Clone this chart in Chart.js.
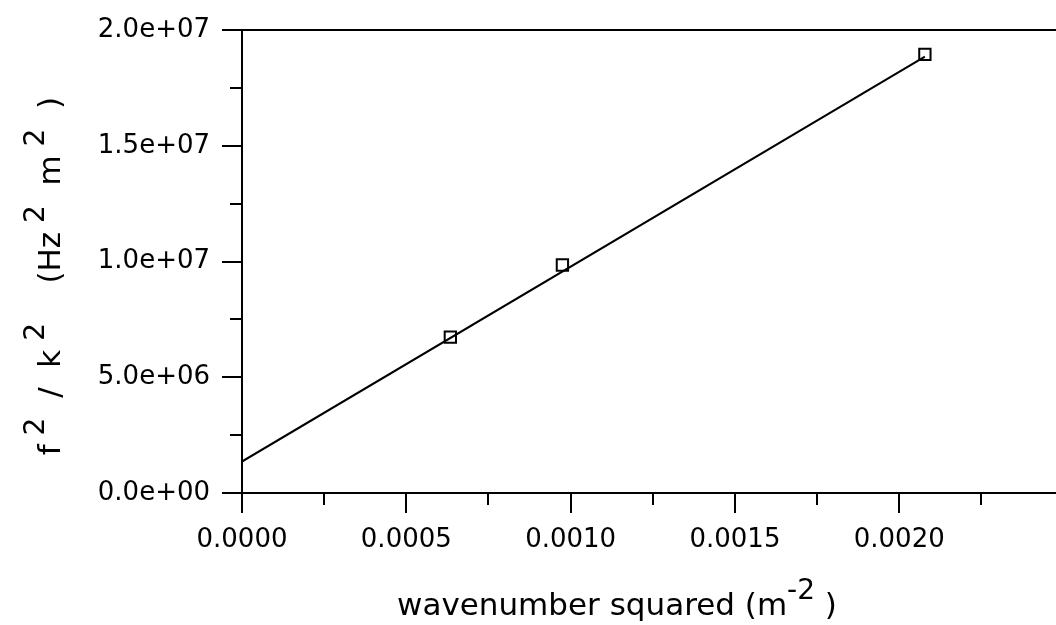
<!DOCTYPE html>
<html>
<head>
<meta charset="utf-8">
<script src="https://cdn.jsdelivr.net/npm/chart.js@4"></script>
<style>
html,body{margin:0;padding:0;background:#fff}
#wrap{width:1056px;height:625px}
</style>
</head>
<body>
<div id="wrap"><canvas id="dispChart"></canvas></div>
<script>
// measured points and the straight-line fit through them
const kSquared = [0.000634, 0.000975, 0.002078]
const fOverK = [6.73e6, 9.85e6, 1.895e7]
const fitK = [0, 0.002078]
const fitF = [1.36e6, 1.885e7]

const xLabels = ['0.0000', '0.0005', '0.0010', '0.0015', '0.0020']
const yLabels = ['0.0e+00', '5.0e+06', '1.0e+07', '1.5e+07', '2.0e+07']

// title pieces: [text, superscript?]
const xTitle = [['wavenumber squared (m', false], ['-2', true], [' )', false]]
const yTitle = [['f', false], [' 2', true], ['  /  k', false], [' 2', true], ['    (Hz', false], [' 2', true], ['  m', false], [' 2', true], ['  )', false]]

Chart.defaults.font.family = 'DejaVu Sans'
Chart.defaults.color = '#000'

const FONT = 'DejaVu Sans'

const majorLabel = (labels) => (value, index) => index % 2 === 0 ? (labels[index / 2] || '') : ''

const drawRuns = (ctx, runs, size, supSize, lift) => {
    let x = 0
    runs.forEach(([t, sup]) => {
        ctx.font = (sup ? supSize : size) + 'px "' + FONT + '"'
        ctx.fillText(t, x, sup ? -lift : 0)
        x += ctx.measureText(t).width
    })
    return x
}

const runsWidth = (ctx, runs, size, supSize) => {
    let w = 0
    runs.forEach(([t, sup]) => {
        ctx.font = (sup ? supSize : size) + 'px "' + FONT + '"'
        w += ctx.measureText(t).width
    })
    return w
}

// no extra room for edge labels, the frame is placed by layout padding
const noEdgePad = (s) => {
    s.paddingTop = 0
    s.paddingBottom = 0
    s.paddingLeft = 0
    s.paddingRight = 0
}

const axisDecor = {
    id: 'axisDecor',
    afterDraw(chart) {
        const ctx = chart.ctx
        const xs = chart.scales.x
        const ys = chart.scales.y
        const area = chart.chartArea
        ctx.save()
        ctx.strokeStyle = '#000'
        ctx.lineWidth = 2
        ctx.beginPath()
        // top frame line
        ctx.moveTo(area.left, area.top)
        ctx.lineTo(area.right, area.top)
        // axis lines
        ctx.moveTo(area.left, area.top)
        ctx.lineTo(area.left, area.bottom)
        ctx.lineTo(area.right, area.bottom)
        // ticks, long on labelled ones
        xs.ticks.forEach((t, i) => {
            const px = Math.round(xs.getPixelForValue(t.value))
            ctx.moveTo(px, area.bottom)
            ctx.lineTo(px, area.bottom + (i % 2 === 0 ? 20 : 12))
        })
        ys.ticks.forEach((t, i) => {
            const py = Math.round(ys.getPixelForValue(t.value))
            ctx.moveTo(area.left, py)
            ctx.lineTo(area.left - (i % 2 === 0 ? 20 : 12), py)
        })
        ctx.stroke()

        // axis titles with raised exponents
        ctx.fillStyle = '#000'
        ctx.textBaseline = 'alphabetic'
        ctx.textAlign = 'left'
        const size = 31, supSize = 28, lift = 16
        const wx = runsWidth(ctx, xTitle, size, supSize)
        ctx.save()
        ctx.translate(617 - wx / 2, 615)
        drawRuns(ctx, xTitle, size, supSize, lift)
        ctx.restore()

        const wy = runsWidth(ctx, yTitle, size, supSize)
        ctx.save()
        ctx.translate(60, 276 + wy / 2)
        ctx.rotate(-Math.PI / 2)
        drawRuns(ctx, yTitle, size, supSize, lift)
        ctx.restore()
        ctx.restore()
    }
}

const data = {
    datasets: [{
        type: 'scatter',
        data: kSquared.map((k, i) => ({x: k, y: fOverK[i]})),
        pointStyle: 'rect',
        pointRadius: 8,
        pointBorderWidth: 2,
        pointBorderColor: '#000',
        pointBackgroundColor: 'rgba(0,0,0,0)'
    }, {
        type: 'line',
        data: fitK.map((k, i) => ({x: k, y: fitF[i]})),
        borderColor: '#000',
        borderWidth: 2,
        pointRadius: 0,
        fill: false
    }]
}

const options = {
    responsive: true,
    maintainAspectRatio: false,
    animation: false,
    layout: {autoPadding: false, padding: {top: 30, left: 0, right: 0, bottom: 0}},
    plugins: {legend: {display: false}, tooltip: {enabled: false}},
    scales: {
        x: {
            type: 'linear',
            min: 0,
            max: 0.002477,
            grid: {display: false, drawTicks: false},
            border: {display: false},
            ticks: {
                stepSize: 0.00025,
                includeBounds: false,
                autoSkip: false,
                maxRotation: 0,
                padding: 32,
                font: {size: 26},
                callback: majorLabel(xLabels)
            },
            afterFit: (s) => { s.height = 132; noEdgePad(s) }
        },
        y: {
            type: 'linear',
            min: 0,
            max: 2e7,
            grid: {display: false, drawTicks: false},
            border: {display: false},
            ticks: {
                stepSize: 2.5e6,
                autoSkip: false,
                padding: 32,
                font: {size: 26},
                callback: majorLabel(yLabels)
            },
            afterFit: (s) => { s.width = 242; noEdgePad(s) }
        }
    }
}

new Chart('dispChart', {data, options, plugins: [axisDecor]})
</script>
</body>
</html>
